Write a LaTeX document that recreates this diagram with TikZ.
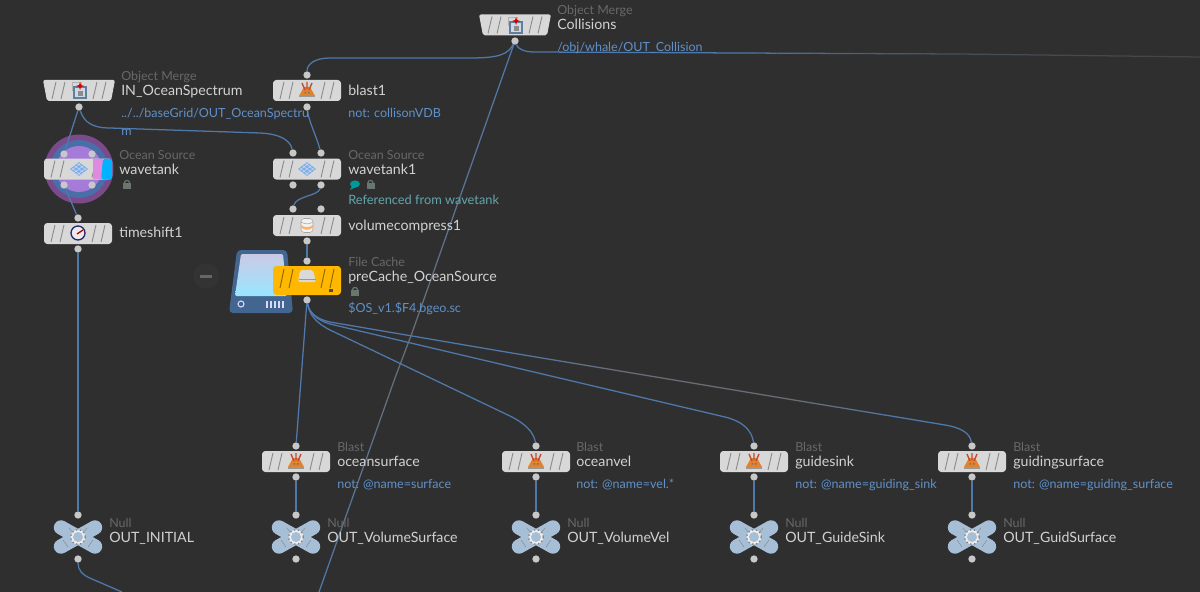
\documentclass[tikz,border=0pt]{standalone}
\usepackage{fontspec}
\setmainfont{Lato}
\usetikzlibrary{calc}
\definecolor{bgc}{HTML}{2F2F2F}
\definecolor{wire}{HTML}{4F78AB}
\definecolor{wiregrey}{HTML}{6C6C6C}
\definecolor{wirefaint}{HTML}{444444}
\definecolor{barc}{HTML}{D8D8D8}
\definecolor{stripec}{HTML}{8C8C8C}
\definecolor{dotc}{HTML}{C8C8C8}
\definecolor{namec}{HTML}{D2D2D2}
\definecolor{typec}{HTML}{686868}
\definecolor{bluet}{HTML}{6091CA}
\definecolor{tealt}{HTML}{62A7AD}
\definecolor{nullc}{HTML}{A6BFD6}
\definecolor{lockc}{HTML}{68766F}
\definecolor{cachec}{HTML}{FFB700}
\definecolor{discout}{HTML}{7A4A8A}
\definecolor{discmid}{HTML}{4A6FA8}
\definecolor{discin}{HTML}{A67AD8}
\definecolor{pinkc}{HTML}{E08ADF}
\definecolor{cyanc}{HTML}{00B2FF}
\definecolor{oceanc}{HTML}{7DB0E0}
\definecolor{blastc}{HTML}{E0822E}
\definecolor{spikec}{HTML}{C24A32}
\definecolor{mergeb}{HTML}{5F7F9F}
\definecolor{mergef}{HTML}{CFD9E2}
\pgfdeclarelayer{bg}\pgfdeclarelayer{conn}
\pgfsetlayers{bg,conn,main}
\tikzset{
 x=0.75pt,y=-0.75pt,
 barbox/.style={rectangle,rounded corners=2.5pt,minimum width=51pt,minimum height=15.75pt,inner sep=0pt},
 stripe/.style={draw=stripec,line width=0.7pt},
 pin/.style={circle,fill=dotc,minimum size=5.5pt,inner sep=0pt},
 wirel/.style={draw=wire,line width=0.95pt},
 txt/.style={anchor=base west,inner sep=0pt,font=\fontsize{10.65pt}{12pt}\selectfont},
 namet/.style={txt,text=namec},
 typet/.style={txt,text=typec,font=\fontsize{9.35pt}{12pt}\selectfont},
 bluelab/.style={txt,text=bluet,font=\fontsize{9.4pt}{12pt}\selectfont},
 teallab/.style={txt,text=tealt,font=\fontsize{9.6pt}{12pt}\selectfont},
}
\newcommand{\stripes}{\foreach \d in {-25,-16,16,25}{\draw[stripe] (\d+2,-8.5) -- (\d-2,8.5);}}
\newcommand{\plainbar}[4]{\node[barbox,fill=#4] (#1) at (#2,#3) {};\begin{scope}[shift={(#2,#3)}]\stripes\end{scope}}
\newcommand{\trapbar}[3]{\node[barbox,minimum width=54pt] (#1) at (#2,#3) {};\begin{scope}[shift={(#2,#3)}]\fill[barc,rounded corners=1.5pt] (-36,-10.5) -- (36,-10.5) -- (32,10.5) -- (-32,10.5) -- cycle;\stripes\end{scope}}
\newcommand{\iconmerge}[2]{\begin{scope}[shift={(#1,#2)}]
 \draw[black!30,fill=barc,line width=.4pt] (-7,-8) rectangle (2,0);
 \draw[fill=mergef,draw=mergeb,line width=.8pt] (-5,-3) rectangle (7,8);
 \fill[black!45] (-1.5,1) rectangle (3.5,6);
 \fill[red!85!black] (1,-8) -- (2,-5) -- (5,-4) -- (2,-3) -- (1,0) -- (0,-3) -- (-3,-4) -- (0,-5) -- cycle;
\end{scope}}
\newcommand{\iconblast}[2]{\begin{scope}[shift={(#1,#2)}]
 \fill[blastc] (-3,-3) -- (3,-3) -- (8,6) -- (-8,6) -- cycle;
 \fill[black!40] (-8,6) rectangle (8,7.5);
 \draw[spikec,line width=1pt] (0,-1) -- (0,-8) (-2,0) -- (-5,-7) (2,0) -- (5,-7);
 \fill[black!55] (-2.5,2) rectangle (-1,3.5) (1,2) rectangle (2.5,3.5);
\end{scope}}
\newcommand{\iconocean}[2]{\begin{scope}[shift={(#1,#2)}]
 \fill[oceanc] (0,-7) -- (9,0) -- (0,7) -- (-9,0) -- cycle;
 \draw[white!85!blue,line width=.3pt] (-4.5,-3.5) -- (4.5,3.5) (4.5,-3.5) -- (-4.5,3.5) (-1.5,-5.8)--(7,1) (1.5,-5.8)--(-7,1) (-7,-1)--(1.5,5.8) (7,-1)--(-1.5,5.8);
\end{scope}}
\newcommand{\iconlock}[2]{\begin{scope}[shift={(#1,#2)}]
 \draw[lockc,line width=.9pt] (-2.6,-1) arc[start angle=180,end angle=360,radius=2.6];
 \fill[lockc] (-4,-1) rectangle (4,5);
\end{scope}}
\newcommand{\nullshape}[2]{\begin{scope}[shift={(#1,#2)}]
 \draw[nullc,line width=10.8pt,line cap=round] (-17,-9.5) -- (17,9.5) (-17,9.5) -- (17,-9.5);
 \draw[black!45,line width=.4pt] (-15,3) -- (-10,10) (15,3) -- (10,10) (-9,-9) -- (-5,-4) (9,-9) -- (5,-4);
 \fill[white!85!gray] (0,0) circle[radius=7.3];
 \draw[black!50,line width=1pt,dotted] (0,0) circle[radius=7.3];
 \fill[nullc] (0,0) circle[radius=5];
\end{scope}}
\newcommand{\blastnode}[5]{% id, cx, name, filter, textx
 \plainbar{#1}{#2}{461.5}{barc}
 \iconblast{#2}{461}
 \node[pin] (#1i) at (#2,446) {};
 \node[pin] (#1o) at (#2,477) {};
 \node[typet] (#1type) at (#5,451.5) {Blast};
 \node[namet] (#1name) at (#5,466) {#3};
 \node[bluelab] (#1filt) at (#5,488.5) {not: @name=#4};
}
\newcommand{\nullnode}[4]{% id, cx, name, textx
 \nullshape{#2}{537}
 \node[circle,minimum size=5pt,inner sep=0pt] (#1) at (#2,537) {};
 \node[pin] (#1i) at (#2,515) {};
 \node[pin] (#1o) at (#2,559) {};
 \node[typet] (#1type) at (#4,527.5) {Null};
 \node[namet] (#1name) at (#4,542) {#3};
}
% wire piece that fades: from, to, start %, end %, far colour
\newcommand{\fadewire}[5]{\foreach \i in {1,...,12}{
 \pgfmathsetmacro\ta{(\i-1)/12}\pgfmathsetmacro\tb{\i/12}
 \pgfmathtruncatemacro\mm{#3+(#4-#3)*(\i-0.5)/12}
 \draw[wirel,draw=wire!\mm!#5] ($(#1)!\ta!(#2)$) -- ($(#1)!\tb!(#2)$);}}
\begin{document}
\begin{tikzpicture}
\useasboundingbox (0,0) rectangle (1200,592);
\begin{pgfonlayer}{bg}
 \fill[bgc] (0,0) rectangle (1200,592);
 % wavetank discs
 \fill[discout] (79,169) circle[radius=34.5];
 \fill[discmid] (79,169) circle[radius=29];
 \fill[discin] (79,169) circle[radius=23];
 % minus badge
 \fill[black!80] (206,276) circle[radius=13];
 \draw[black!60,line width=1.6pt] (200,276.5) -- (212,276.5);
\end{pgfonlayer}
% disk shape (behind the cache bar)
\fill[rounded corners=3pt,fill=wire!85!black] (237,250) -- (287,250) -- (293,313) -- (229,313) -- cycle;
\shade[top color=blue!12!white!90!black,bottom color=blue!25!cyan!40!white,rounded corners=1pt] (241,254) -- (283,254) -- (287,296) -- (235,296) -- cycle;
\draw[white!85!blue,line width=.8pt] (241,304) circle[radius=3];
\foreach \xx in {266,270,274,278,282}{\fill[white!85!blue] (\xx,300.5) rectangle (\xx+2,307.5);}
% Collisions
\trapbar{coll}{515}{25}
\iconmerge{515}{25}
\node[pin] (collo) at (515,41) {};
\node[typet] (colltype) at (557,14.5) {Object Merge};
\node[namet] (collname) at (557,30) {Collisions};
\node[bluelab] (collpath) at (557,51.5) {/obj/whale/OUT\_Collision};
% blast1
\plainbar{blastone}{307}{90.5}{barc}
\iconblast{307}{90}
\node[pin] (blastonei) at (307,75) {};
\node[pin] (blastoneo) at (307,107) {};
\node[namet] (blastonename) at (348,95) {blast1};
\node[bluelab] (blastonefilt) at (348,117.5) {not: collisonVDB};
% IN_OceanSpectrum
\trapbar{spec}{79}{90.5}
\iconmerge{79}{90}
\node[pin] (speco) at (79,107) {};
\node[typet] (spectype) at (121,80.5) {Object Merge};
\node[namet] (specname) at (121,96) {IN\_OceanSpectrum};
\node[bluelab] (specpath) at (121,117.5) {../../baseGrid/OUT\_OceanSpectru};
\node[bluelab] (specpathb) at (121,135.5) {m};
% wavetank
\plainbar{wt}{78}{169}{barc}
\iconocean{79}{169}
\fill[pinkc] (93,159) -- (103,159) -- (103,179) -- (93,179) -- cycle;
\fill[cyanc,rounded corners=2pt] (103,158.5) -- (112,158.5) -- (112,179.5) -- (101,179.5) -- cycle;
\node[pin] (wta) at (64,154) {};
\node[pin] (wtb) at (92,154) {};
\node[pin] (wtc) at (64,185) {};
\node[pin] (wtd) at (92,185) {};
\node[typet] (wttype) at (119,159) {Ocean Source};
\node[namet] (wtname) at (119,174) {wavetank};
\iconlock{127}{184}
% timeshift1
\plainbar{ts}{78}{233.5}{barc}
\draw[black!60!blue!70!gray,fill=white!92!black,line width=1pt] (78,233) circle[radius=7];
\draw[red!75!black,line width=1pt] (77,234) -- (83,230);
\node[pin] (tsi) at (78,218) {};
\node[pin] (tso) at (78,249) {};
\node[namet] (tsname) at (119,237) {timeshift1};
% wavetank1
\plainbar{wo}{307}{169}{barc}
\iconocean{307}{169}
\node[pin] (woa) at (293,153) {};
\node[pin] (wob) at (321,153) {};
\node[pin] (woc) at (293,185) {};
\node[pin] (wod) at (321,185) {};
\node[typet] (wotype) at (348,159) {Ocean Source};
\node[namet] (woname) at (348,174) {wavetank1};
\fill[teal!80!cyan] (355,184) ellipse[x radius=5,y radius=3.6];
\fill[teal!80!cyan] (352,186) -- (350,190) -- (356,187) -- cycle;
\iconlock{370.5}{184}
\node[teallab] (woref) at (348,204.5) {Referenced from wavetank};
% volumecompress1
\plainbar{vc}{307}{225.5}{barc}
\fill[white!95!black,draw=black!35,line width=.4pt,rounded corners=2.5pt] (301,218.5) rectangle (313,232.5);
\fill[orange!60!white] (301,225) .. controls (305,228) and (309,228) .. (313,225) -- (313,227.5) .. controls (309,230.5) and (305,230.5) .. (301,227.5) -- cycle;
\draw[black!35,line width=.4pt] (301,222) .. controls (305,224.5) and (309,224.5) .. (313,222);
\node[pin] (vca) at (293,209) {};
\node[pin] (vcb) at (321,209) {};
\node[pin] (vco) at (307,241) {};
\node[namet] (vcname) at (348,230.5) {volumecompress1};
% preCache
\node[barbox,fill=cachec,minimum height=21.75pt] (pc) at (307,280.5) {};
\begin{scope}[shift={(307,280)}]\foreach \d in {-25,-16,16,25}{\draw[draw=black!45!cachec,line width=.7pt] (\d+2,-11) -- (\d-2,8);}\end{scope}
\fill[white!85!black,rounded corners=1.5pt] (300,270) -- (313,270) -- (316,282) -- (298,282) -- cycle;
\draw[black!40,line width=.4pt] (298.5,279) -- (315.5,279);
\fill[black!70] (329,289) rectangle (333,291.5);
\node[pin] (pci) at (307,261) {};
\node[pin] (pco) at (307,300) {};
\node[typet] (pctype) at (348,266) {File Cache};
\node[namet] (pcname) at (348,281) {preCache\_OceanSource};
\iconlock{355}{291}
\node[bluelab] (pcpath) at (348,312.5) {\$OS\_v1.\$F4.bgeo.sc};
% bottom rows
\blastnode{bs}{296}{oceansurface}{surface}{337}
\blastnode{bv}{536}{oceanvel}{vel.*}{576}
\blastnode{bg}{754}{guidesink}{guiding\_sink}{795}
\blastnode{bf}{972}{guidingsurface}{guiding\_surface}{1013}
\nullnode{ni}{78}{OUT\_INITIAL}{109}
\nullnode{ns}{296}{OUT\_VolumeSurface}{327}
\nullnode{nv}{536}{OUT\_VolumeVel}{567}
\nullnode{ng}{754}{OUT\_GuideSink}{785}
\nullnode{nf}{972}{OUT\_GuidSurface}{1003}
\coordinate (exitr) at (1200,57);
\coordinate (exitb) at (319,592);
\coordinate (exiti) at (122,592);
\coordinate (ra) at (535,52);
\coordinate (rb) at (740,53);
\coordinate (rc) at (960,54);
\coordinate (la) at (412,333);
\coordinate (lb) at (395,378);
\coordinate (ta) at (330,322);
\coordinate (tb) at (500,351);
\coordinate (tc) at (620,371);
\coordinate (td) at (800,401);
\coordinate (te) at (900,417.5);
\coordinate (tf) at (945,425);
% connectors
\begin{pgfonlayer}{conn}
 \draw[wirel] (collo) .. controls (508,54) and (500,58) .. (470,58) -- (330,58) .. controls (315,58) and (307,64) .. (blastonei);
 \fadewire{collo}{la}{100}{20}{wiregrey}
 \draw[wirel,draw=wire!20!wiregrey] (la) -- (lb);
 \fadewire{lb}{exitb}{20}{100}{wiregrey}
 \draw[wirel] (collo) .. controls (518,49) and (524,52) .. (ra) -- (rb);
 \fadewire{rb}{rc}{100}{20}{wirefaint}
 \fadewire{rc}{exitr}{20}{0}{wirefaint}
 \draw[wirel] (blastoneo) .. controls (309,122) and (316,135) .. (wob);
 \draw[wirel] (speco) -- (wta);
 \draw[wirel] (speco) .. controls (84,122) and (92,128) .. (110,128) -- (260,133) .. controls (280,134) and (290,140) .. (woa);
 \draw[wirel] (wtc) -- (tsi);
 \draw[wirel] (tso) -- (nii);
 \draw[wirel] (wod) .. controls (318,196) and (296,196) .. (vca);
 \draw[wirel] (vco) -- (pci);
 \draw[wirel] (pco) -- (bsi);
 \draw[wirel] (pco) .. controls (309,314) and (316,323) .. (330,330) -- (510,416) .. controls (528,425) and (534,434) .. (bvi);
 \draw[wirel] (pco) .. controls (309,312) and (316,320) .. (330,324) -- (725,417) .. controls (745,422) and (752,432) .. (bgi);
 \draw[wirel] (pco) .. controls (309,312) and (316,319) .. (ta) -- (tb);
 \fadewire{tb}{tc}{100}{15}{wiregrey}
 \draw[wirel,draw=wire!15!wiregrey] (tc) -- (td);
 \fadewire{td}{te}{15}{100}{wiregrey}
 \draw[wirel] (te) -- (tf) .. controls (963,428) and (970,434) .. (bfi);
 \draw[wirel] (bso) -- (nsi);
 \draw[wirel] (bvo) -- (nvi);
 \draw[wirel] (bgo) -- (ngi);
 \draw[wirel] (bfo) -- (nfi);
 \draw[wirel] (nio) .. controls (78,570) and (82,575) .. (92,579) -- (exiti);
\end{pgfonlayer}
\end{tikzpicture}
\end{document}
